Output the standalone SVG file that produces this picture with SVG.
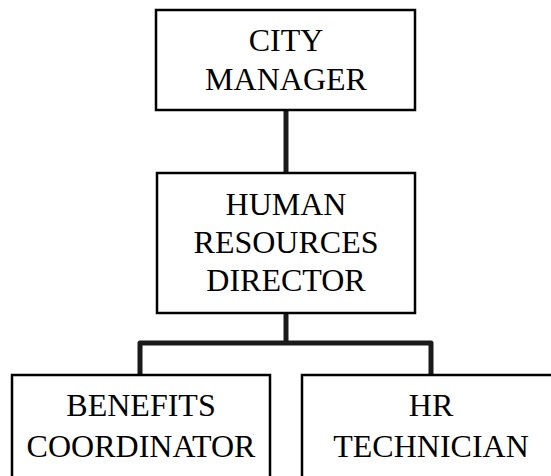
<svg xmlns="http://www.w3.org/2000/svg" width="551" height="476" viewBox="0 0 551 476">
<style>
.box{fill:#fff;stroke:#000;stroke-width:2.5}
.t{font-family:"Liberation Serif","Times New Roman",serif;font-size:32px;fill:#000;text-anchor:middle}
.c{fill:none;stroke:#1a1a1a;stroke-width:5;stroke-linejoin:round}
</style>
<rect width="551" height="476" fill="#fff"/>
<g id="connectors">
<line class="c" x1="286" y1="110" x2="286" y2="173"/>
<line class="c" x1="286" y1="313" x2="286" y2="343"/>
<path class="c" d="M140 375 V343 H431 V375"/>
</g>
<g id="city-manager">
<rect class="box" x="156" y="10" width="259" height="100"/>
<text class="t" x="286" y="50.5">CITY</text>
<text class="t" x="286" y="90">MANAGER</text>
</g>
<g id="hr-director">
<rect class="box" x="157" y="173" width="258" height="140"/>
<text class="t" x="286" y="215">HUMAN</text>
<text class="t" x="286" y="253">RESOURCES</text>
<text class="t" x="286" y="291">DIRECTOR</text>
</g>
<g id="benefits-coordinator">
<rect class="box" x="12" y="375" width="258" height="120"/>
<text class="t" x="141" y="416">BENEFITS</text>
<text class="t" x="141" y="456.5">COORDINATOR</text>
</g>
<g id="hr-technician">
<rect class="box" x="302" y="375" width="258" height="120"/>
<text class="t" x="431" y="416">HR</text>
<text class="t" x="431" y="456.5">TECHNICIAN</text>
</g>
</svg>
